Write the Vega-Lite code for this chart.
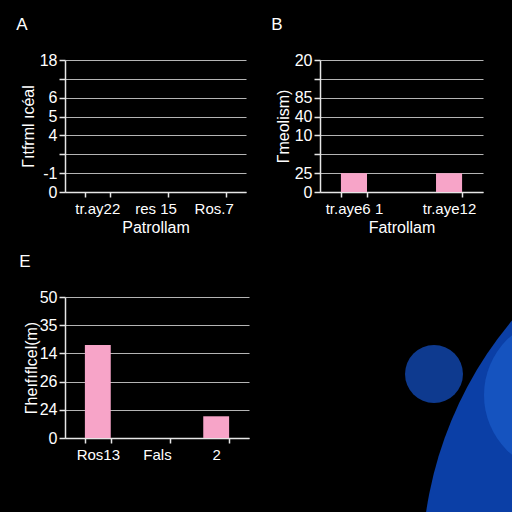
{
  "$schema": "https://vega.github.io/schema/vega-lite/v6.json",
  "background": "black",
  "padding": {"left": 16, "top": 16, "right": 0, "bottom": 0},
  "columns": 2,
  "spacing": {"row": 18, "column": 22},
  "config": {
    "view": {"stroke": null},
    "font": "Liberation Sans",
    "title": {"color": "white", "fontSize": 17, "fontWeight": "normal", "anchor": "start", "frame": "bounds", "offset": 18, "dx": -4, "font": "Liberation Sans"},
    "axis": {
      "labelColor": "white", "titleColor": "white",
      "domainColor": "#e6e6e6", "tickColor": "#e6e6e6", "gridColor": "#b4b4b4",
      "labelFont": "Liberation Sans", "titleFont": "Liberation Sans",
      "labelFontSize": 16, "titleFontSize": 16, "titleFontWeight": "normal",
      "domainWidth": 1.5, "tickWidth": 1.5, "gridWidth": 1
    },
    "axisY": {"grid": true, "tickSize": 6, "labelPadding": 2, "titlePadding": 3},
    "axisX": {"grid": false, "tickBand": "extent", "labelAngle": 0, "tickSize": 5, "labelPadding": 4, "titlePadding": 3, "labelFontSize": 15, "titleFontSize": 16}
  },
  "concat": [
    {
      "width": 181, "height": 132,
      "title": {"text": "A"},
      "data": {"values": [
        {"site": "tr.ay22", "value": 0},
        {"site": "res 15", "value": 0},
        {"site": "Ros.7", "value": 0}
      ]},
      "mark": {"type": "bar", "color": "#f7a4c8"},
      "encoding": {
        "x": {"field": "site", "type": "nominal", "sort": null, "title": "Patrollam", "scale": {"paddingInner": 0.563, "paddingOuter": 0.336}},
        "y": {"field": "value", "type": "quantitative", "title": "Γıtfrml ıcéal", "scale": {"domain": [0, 7], "nice": false}, "axis": {"values": [0, 1, 2, 3, 4, 5, 6, 7], "labelExpr": "['0','-1','','4','5','6','','18'][datum.value]"}}
      }
    },
    {
      "width": 163, "height": 132,
      "title": {"text": "B"},
      "data": {"values": [
        {"site": "tr.aye6 1", "value": 1},
        {"site": "tr.aye12", "value": 1}
      ]},
      "mark": {"type": "bar", "color": "#f7a4c8"},
      "encoding": {
        "x": {"field": "site", "type": "nominal", "sort": null, "title": "Fatrollam", "scale": {"paddingInner": 0.726, "paddingOuter": 0.22}},
        "y": {"field": "value", "type": "quantitative", "title": "Γmeolism)", "scale": {"domain": [0, 7], "nice": false}, "axis": {"values": [0, 1, 2, 3, 4, 5, 6, 7], "labelExpr": "['0','25','','10','40','85','','20'][datum.value]"}}
      }
    },
    {
      "width": 184, "height": 141,
      "title": {"text": "E"},
      "data": {"values": [
        {"site": "Ros13", "value": 3.3},
        {"site": "Fals", "value": 0},
        {"site": "2", "value": 0.77}
      ]},
      "mark": {"type": "bar", "color": "#f7a4c8"},
      "encoding": {
        "x": {"field": "site", "type": "nominal", "sort": null, "title": null, "scale": {"paddingInner": 0.563, "paddingOuter": 0.336}},
        "y": {"field": "value", "type": "quantitative", "title": "Γheıfıflcel(m)", "scale": {"domain": [0, 5], "nice": false}, "axis": {"titlePadding": 0, "values": [0, 1, 2, 3, 4, 5], "labelExpr": "['0','24','26','14','35','50'][datum.value]"}}
      }
    },
    {
      "width": 197, "height": 215,
      "data": {"values": [
        {"shape": "big", "cx": 487, "cy": 271},
        {"shape": "inner", "cx": 242, "cy": 98},
        {"shape": "small", "cx": 114, "cy": 77}
      ]},
      "mark": {"type": "point", "filled": true, "opacity": 1, "clip": true, "strokeWidth": 0},
      "encoding": {
        "x": {"field": "cx", "type": "quantitative", "scale": {"domain": [0, 197], "nice": false, "zero": false}, "axis": null},
        "y": {"field": "cy", "type": "quantitative", "scale": {"domain": [0, 215], "nice": false, "zero": false, "reverse": true}, "axis": null},
        "size": {"field": "shape", "type": "nominal", "scale": {"type": "ordinal", "domain": ["big", "inner", "small"], "range": [592900, 24336, 3364]}, "legend": null},
        "color": {"field": "shape", "type": "nominal", "scale": {"domain": ["big", "inner", "small"], "range": ["#0b3fa6", "#1553bf", "#0e3a8f"]}, "legend": null}
      }
    }
  ]
}
